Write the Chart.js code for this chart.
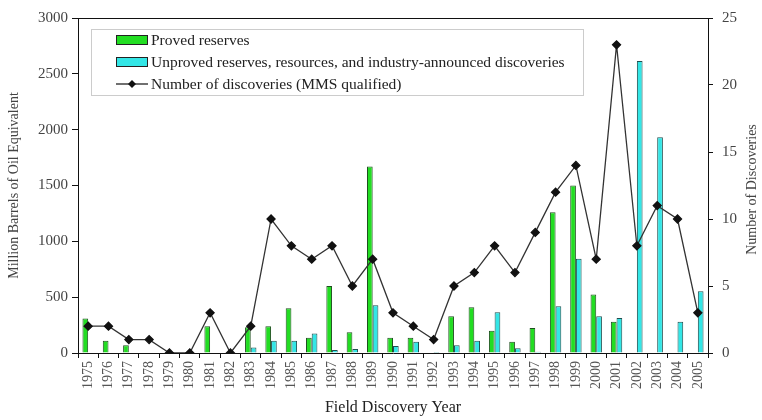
<!DOCTYPE html>
<html>
<head>
<meta charset="utf-8">
<script src="https://cdn.jsdelivr.net/npm/chart.js@4"></script>
<style>
  body { margin: 0; background: #fff; }
  #wrap { width: 762px; height: 420px; }
</style>
</head>
<body>
<div id="wrap"><canvas id="discoveries-chart"></canvas></div>
<script>

// Field discovery data

const years = [
  '1975', '1976', '1977', '1978', '1979', '1980', '1981', '1982', '1983', '1984',
  '1985', '1986', '1987', '1988', '1989', '1990', '1991', '1992', '1993', '1994',
  '1995', '1996', '1997', '1998', '1999', '2000', '2001', '2002', '2003', '2004', '2005'
];

// million barrels of oil equivalent
const provedReserves = [
  310, 110, 70, 0, 0, 0, 240, 0, 230, 240,
  400, 136, 600, 185, 1670, 136, 136, 0, 330, 410,
  200, 100, 225, 1260, 1500, 525, 280, 0, 5, 5, 0
];

const unprovedReserves = [
  0, 5, 0, 0, 0, 0, 0, 0, 50, 110,
  110, 175, 27, 36, 427, 62, 100, 8, 70, 110,
  365, 42, 12, 418, 843, 329, 314, 2614, 1932, 279, 552
];

// number of discoveries (MMS qualified)
const discoveries = [
  2, 2, 1, 1, 0, 0, 3, 0, 2, 10,
  8, 7, 8, 5, 7, 3, 2, 1, 5, 6,
  8, 6, 9, 12, 14, 7, 23, 8, 11, 10, 3
];

const legendLabels = [
  'Proved reserves',
  'Unproved reserves, resources, and industry-announced discoveries',
  'Number of discoveries (MMS qualified)'
];

const serif = "'Liberation Serif', 'DejaVu Serif', serif";
const green = '#22dd22';
const cyan = '#33e6e6';

Chart.defaults.font.family = serif;
Chart.defaults.color = '#444';

// legend box drawn inside the plot, top frame line, right axis title
const boxLegend = {
  id: 'boxLegend',
  afterDraw(chart) {
    const ctx = chart.ctx;
    const area = chart.chartArea;
    ctx.save();

    ctx.strokeStyle = '#111';
    ctx.lineWidth = 1;
    ctx.beginPath();
    ctx.moveTo(area.left, area.top + 0.5);
    ctx.lineTo(area.right, area.top + 0.5);
    ctx.stroke();

    // right title reads bottom to top, like the left one
    ctx.save();
    ctx.translate(752, (area.top + area.bottom) / 2 + 4);
    ctx.rotate(-Math.PI / 2);
    ctx.font = '14px ' + serif;
    ctx.fillStyle = '#444';
    ctx.textAlign = 'center';
    ctx.textBaseline = 'middle';
    ctx.fillText('Number of Discoveries', 0, 0);
    ctx.restore();

    const x0 = 91, y0 = 29, w = 492, h = 66;
    ctx.fillStyle = '#fff';
    ctx.fillRect(x0, y0, w, h);
    ctx.strokeStyle = '#cccccc';
    ctx.strokeRect(x0 + 0.5, y0 + 0.5, w, h);

    const rows = [40, 62, 84];
    ctx.font = '15.5px ' + serif;
    ctx.textBaseline = 'middle';
    rows.forEach((y, i) => {
      if (i < 2) {
        ctx.fillStyle = i === 0 ? green : cyan;
        ctx.fillRect(116, y - 5, 32, 10);
        ctx.strokeStyle = '#222';
        ctx.lineWidth = 1;
        ctx.strokeRect(116.5, y - 4.5, 31, 9);
      } else {
        ctx.strokeStyle = '#222';
        ctx.lineWidth = 1.3;
        ctx.beginPath();
        ctx.moveTo(116, y);
        ctx.lineTo(148, y);
        ctx.stroke();
        ctx.fillStyle = '#111';
        ctx.beginPath();
        ctx.moveTo(132, y - 4);
        ctx.lineTo(136, y);
        ctx.lineTo(132, y + 4);
        ctx.lineTo(128, y);
        ctx.closePath();
        ctx.fill();
      }
      ctx.fillStyle = '#222';
      ctx.fillText(legendLabels[i], 151, y + 1);
    });
    ctx.restore();
  }
};

const data = {
  labels: years,
  datasets: [
    {
      type: 'line',
      label: legendLabels[2],
      data: discoveries,
      yAxisID: 'y1',
      borderColor: '#333',
      borderWidth: 1.3,
      pointStyle: 'rectRot',
      pointRadius: 4,
      pointBackgroundColor: '#111',
      pointBorderColor: '#111',
      tension: 0,
      order: 0
    },
    {
      type: 'bar',
      label: legendLabels[0],
      data: provedReserves,
      yAxisID: 'y',
      backgroundColor: green,
      borderColor: '#1f4f1f',
      borderWidth: 1,
      categoryPercentage: 0.56,
      barPercentage: 1.0,
      order: 1
    },
    {
      type: 'bar',
      label: legendLabels[1],
      data: unprovedReserves,
      yAxisID: 'y',
      backgroundColor: cyan,
      borderColor: '#1f4f4f',
      borderWidth: 1,
      categoryPercentage: 0.56,
      barPercentage: 1.0,
      order: 2
    }
  ]
};

const config = {
  type: 'bar',
  data: data,
  plugins: [boxLegend],
  options: {
    responsive: true,
    maintainAspectRatio: false,
    animation: false,
    layout: { padding: { top: 16, left: 0, right: 0, bottom: 0 } },
    plugins: {
      legend: { display: false },
      tooltip: { enabled: false }
    },
    scales: {
      x: {
        offset: true,
        afterFit(scale) { scale.height = 67; },
        grid: { display: true, drawOnChartArea: false, offset: true, tickLength: 5, color: '#111' },
        border: { color: '#111', width: 1 },
        ticks: { minRotation: 90, maxRotation: 90, padding: 3, font: { size: 14 }, color: '#555' },
        title: { display: true, text: 'Field Discovery Year', font: { size: 16 }, color: '#222', padding: { top: 0, bottom: 3 } }
      },
      y: {
        position: 'left',
        min: 0,
        max: 3000,
        afterFit(scale) { scale.width = 78; },
        grid: { display: true, drawOnChartArea: false, tickLength: 6, color: '#111' },
        border: { color: '#111', width: 1 },
        ticks: { stepSize: 500, padding: 4, font: { size: 15 }, color: '#444', callback: (v) => String(v) },
        title: { display: true, text: 'Million Barrels of Oil Equivalent', font: { size: 14 }, color: '#444', padding: { top: 6, bottom: 0 } }
      },
      y1: {
        position: 'right',
        min: 0,
        max: 25,
        afterFit(scale) { scale.width = 54; },
        grid: { display: true, drawOnChartArea: false, tickLength: 5, color: '#111' },
        border: { color: '#111', width: 1 },
        ticks: { stepSize: 5, padding: 9, font: { size: 15 }, color: '#444' },
        title: { display: false }
      }
    }
  }
};

const discoveriesChart = new Chart(
  document.getElementById('discoveries-chart'),
  config
);

</script>
</body>
</html>
